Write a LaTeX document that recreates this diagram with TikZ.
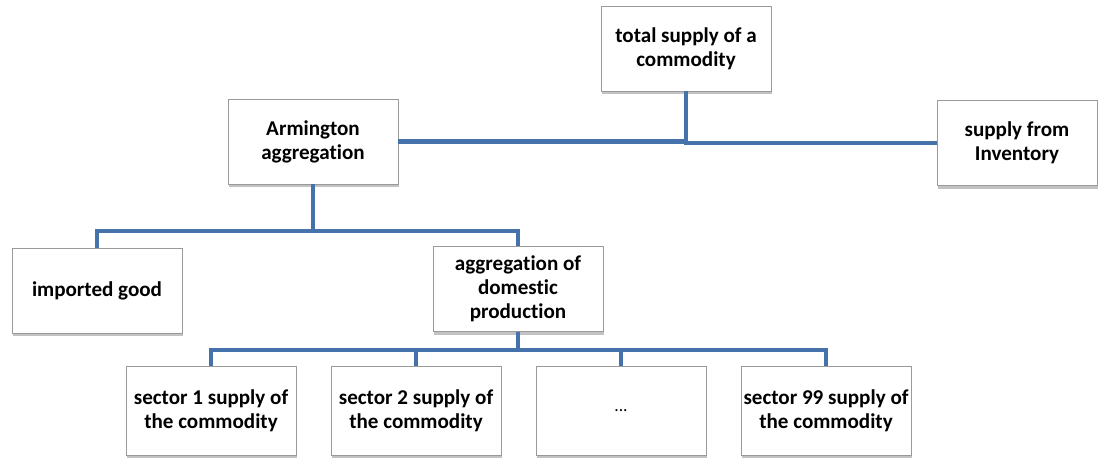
\documentclass[tikz,border=0pt]{standalone}
\usepackage{fontspec}
\setmainfont{Carlito}[Ligatures=NoCommon]
\usepackage{tikz}
\usetikzlibrary{positioning, calc, shadows}
\definecolor{linkblue}{HTML}{4672AB}
\definecolor{boxedge}{HTML}{9A9A9A}

\begin{document}
\begin{tikzpicture}[
    x=0.02cm, y=-0.02cm,
    box/.style={rectangle, draw=boxedge, line width=0.5pt, fill=white, minimum width=3.4cm, minimum height=1.7cm, align=center, font=\fontsize{12}{13.6}\selectfont\bfseries, inner sep=1pt, drop shadow={shadow xshift=0.6pt, shadow yshift=-1.8pt, opacity=0.4, fill=black!60}},
    link/.style={draw=linkblue, line width=2.7pt}
]
\useasboundingbox (0,0) rectangle (1099,458);

\node[box] (tot) at (686,48.5) {total supply of a\\commodity};
\node[box] (arm) at (313,141.5) {Armington\\aggregation};
\node[box, minimum width=3.2cm] (inv) at (1017,143) {supply from\\Inventory};
\node[box] (imp) at (97,290.5) {imported good};
\node[box] (agg) at (518,289) {aggregation of\\domestic\\production};
\node[box, minimum height=1.78cm] (s1) at (211,410.5) {sector 1 supply of\\the commodity};
\node[box, minimum height=1.78cm] (s2) at (416,410.5) {sector 2 supply of\\the commodity};
\node[box, minimum height=1.78cm, font=\fontsize{10}{12}\selectfont] (sd) at (621,410.5) {...};
\node[box, minimum height=1.78cm] (s99) at (826,410.5) {sector 99 supply of\\the commodity};

% connectors
\draw[link] (tot.south) |- (arm.east);
\draw[link] (tot.south) |- (inv.west);

\coordinate (armbus) at (313,231);
\draw[link] (arm.south) -- (armbus) -| (imp.north);
\draw[link] (armbus) -| (agg.north);

\coordinate (aggbus) at (518,350);
\draw[link] (agg.south) -- (aggbus) -| (s1.north);
\draw[link] (aggbus) -| (s99.north);
\draw[link] (aggbus) -| (s2.north);
\draw[link] (aggbus) -| (sd.north);

\end{tikzpicture}
\end{document}
